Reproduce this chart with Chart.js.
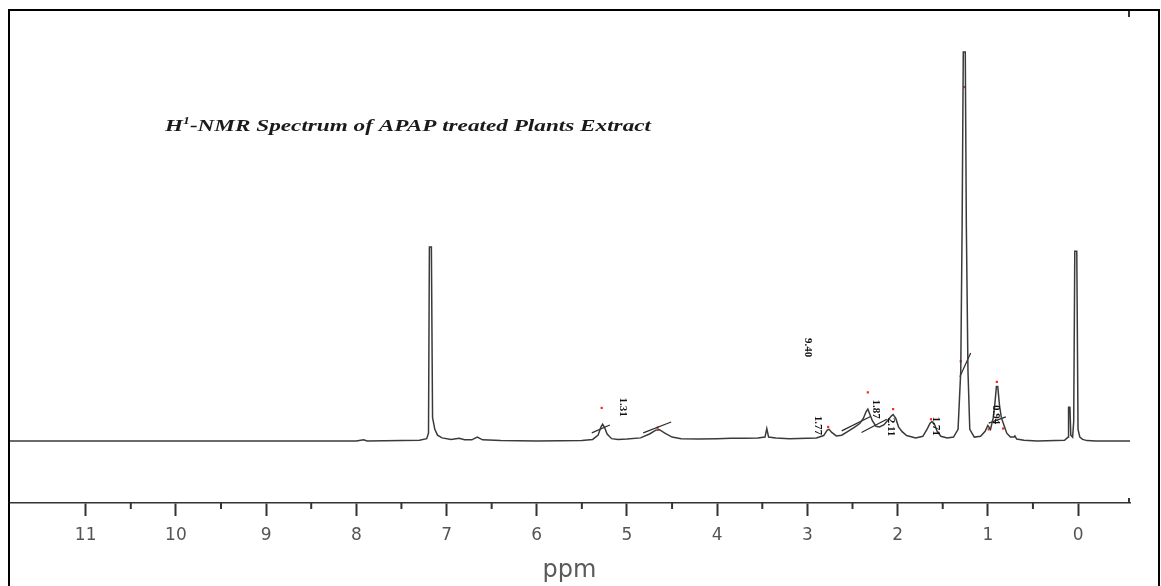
<!DOCTYPE html>
<html>
<head>
<meta charset="utf-8">
<script src="https://cdn.jsdelivr.net/npm/chart.js@4.4.0/dist/chart.umd.min.js"></script>
<style>
  html, body { margin: 0; padding: 0; background: #fff; }
  #wrap { width: 1161px; height: 586px; }
</style>
</head>
<body>
<div id="wrap"><canvas id="nmr" width="1161" height="586"></canvas></div>
<script>
// spectrum trace (ppm, relative intensity)
const ppm = [
  11.85, 8.0, 7.92, 7.88, 7.30, 7.22, 7.20, 7.19, 7.168, 7.155, 7.13, 7.10, 7.05, 6.95, 6.86, 6.80,
  6.72, 6.66, 6.60, 6.40, 6.0, 5.5, 5.38, 5.32, 5.29, 5.27, 5.25, 5.22, 5.17, 5.10, 5.0, 4.85,
  4.75, 4.68, 4.64, 4.58, 4.50, 4.40, 4.2, 4.0, 3.85, 3.70, 3.55, 3.47, 3.45, 3.43, 3.35, 3.2,
  3.0, 2.9, 2.82, 2.78, 2.76, 2.73, 2.68, 2.62, 2.55, 2.48, 2.42, 2.38, 2.35, 2.33, 2.31, 2.28,
  2.24, 2.20, 2.15, 2.10, 2.07, 2.05, 2.02, 1.99, 1.95, 1.90, 1.80, 1.72, 1.67, 1.64, 1.62, 1.59,
  1.56, 1.52, 1.45, 1.38, 1.33, 1.30, 1.285, 1.272, 1.250, 1.238, 1.22, 1.20, 1.15, 1.08, 1.03, 1.00,
  0.97, 0.94, 0.92, 0.905, 0.89, 0.87, 0.85, 0.82, 0.79, 0.75, 0.71, 0.70, 0.68, 0.60, 0.45, 0.15,
  0.11, 0.105, 0.09, 0.08, 0.06, 0.048, 0.036, 0.014, 0.0, -0.02, -0.05, -0.1, -0.2, -0.576
];
const intensity = [
  0, 0, 0.3, 0, 0.2, 0.6, 2, 49.9, 49.9, 6, 3, 1.5, 0.8, 0.4, 0.7, 0.3,
  0.3, 1.0, 0.3, 0.1, 0, 0.1, 0.4, 1.5, 3.5, 4.3, 3.6, 1.8, 0.6, 0.4, 0.5, 0.8,
  1.8, 2.8, 2.9, 2.0, 1.0, 0.6, 0.5, 0.6, 0.7, 0.7, 0.8, 1.0, 3.2, 1.0, 0.8, 0.6,
  0.7, 0.8, 1.4, 2.8, 3.0, 2.2, 1.3, 1.5, 2.5, 3.5, 4.5, 5.8, 7.5, 8.2, 7.0, 5.2,
  3.8, 3.6, 4.2, 5.6, 6.4, 6.8, 5.8, 3.6, 2.4, 1.4, 0.8, 1.2, 3.2, 4.6, 5.0, 4.2,
  2.4, 1.2, 0.8, 1.0, 3.0, 18, 55, 100, 100, 55, 18, 3, 1.0, 1.2, 2.5, 4,
  3, 6, 10, 14, 14, 9, 6, 4, 2, 1, 1.0, 1.3, 0.5, 0.2, 0, 0.2,
  1, 8.7, 8.7, 1.5, 1, 5, 48.8, 48.8, 3, 1, 0.4, 0.1, 0, 0
];

// integral curves (start / end of each)
const integralPpm = [[5.39, 5.19], [4.82, 4.51], [2.62, 2.30], [2.40, 2.12], [1.31, 1.19], [0.99, 0.80]];
const integralVal = [[2.1, 4.1], [2.1, 4.9], [2.6, 6.3], [2.2, 5.6], [16.5, 22.6], [4.6, 6.2]];

// integral labels
const labelText = ['1.31', '9.40', '1.77', '1.87', '2.11', '1.71', '0.94'];
const labelPpm = [5.05, 2.99, 2.88, 2.24, 2.07, 1.58, 0.91];
const labelVal = [8.7, 24.0, 4.0, 8.2, 3.6, 3.8, 6.8];

// peak-pick marks
const peakPpm = [5.28, 4.66, 2.77, 2.33, 2.05, 1.63, 1.26, 1.30, 0.90, 0.99, 0.83];
const peakVal = [8.5, 3.4, 3.6, 12.5, 8.2, 5.6, 91, 20.5, 15.2, 3.0, 3.2];

// axis ticks
const majorTicks = [11, 10, 9, 8, 7, 6, 5, 4, 3, 2, 1, 0];
const minorTicks = [10.5, 9.5, 8.5, 7.5, 6.5, 5.5, 4.5, 3.5, 2.5, 1.5, 0.5];

const pairs = (xs, ys) => xs.map((x, i) => ({ x, y: ys[i] }));

const datasets = [{
  data: pairs(ppm, intensity),
  borderColor: '#3a3a3a',
  backgroundColor: 'transparent',
  borderWidth: 1.5,
  pointRadius: 0,
  tension: 0
}];
integralPpm.forEach((xs, i) => datasets.push({
  data: pairs(xs, integralVal[i]),
  borderColor: '#2a2a2a',
  borderWidth: 1.2,
  pointRadius: 0
}));
datasets.push({
  type: 'scatter',
  data: pairs(peakPpm, peakVal),
  pointRadius: 1.6,
  pointStyle: 'rect',
  backgroundColor: '#ff2a2a',
  borderWidth: 0
});

const extras = {
  id: 'extras',
  afterDraw(chart) {
    const ctx = chart.ctx;
    const x = chart.scales.x;
    const y = chart.scales.y;
    const base = x.top;
    ctx.save();
    ctx.strokeStyle = '#000';
    ctx.lineWidth = 2;
    ctx.beginPath();
    ctx.moveTo(9, 586); ctx.lineTo(9, 10); ctx.lineTo(1159, 10); ctx.lineTo(1159, 586);
    ctx.stroke();

    // minor ticks and the end stub of the axis
    ctx.strokeStyle = '#333';
    ctx.lineWidth = 2;
    ctx.beginPath();
    minorTicks.forEach(v => {
      const px = x.getPixelForValue(v);
      ctx.moveTo(px, base); ctx.lineTo(px, base + 6);
    });
    ctx.moveTo(x.right - 1, base); ctx.lineTo(x.right - 1, base - 5);
    ctx.moveTo(x.right - 1, 11); ctx.lineTo(x.right - 1, 17);
    ctx.stroke();

    // integral labels
    ctx.fillStyle = '#111';
    ctx.font = 'bold 11px "Liberation Serif"';
    ctx.textAlign = 'center';
    ctx.textBaseline = 'middle';
    labelText.forEach((t, i) => {
      ctx.save();
      ctx.translate(x.getPixelForValue(labelPpm[i]), y.getPixelForValue(labelVal[i]));
      ctx.rotate(Math.PI / 2);
      ctx.fillText(t, 0, 0);
      ctx.restore();
    });

    // title
    ctx.font = 'bold italic 17px "Liberation Serif"';
    ctx.textAlign = 'left';
    ctx.textBaseline = 'alphabetic';
    ctx.fillStyle = '#1a1a1a';
    const a = 'H', b = '-NMR Spectrum of APAP treated Plants Extract';
    const supFont = 'bold italic 10px "Liberation Serif"';
    const wa = ctx.measureText(a).width;
    const wb = ctx.measureText(b).width;
    ctx.font = supFont;
    const ws = ctx.measureText('1').width;
    const total = wa + ws + wb;
    const k = (651 - 165) / total;
    ctx.translate(165, 131);
    ctx.scale(k, 1);
    ctx.font = 'bold italic 17px "Liberation Serif"';
    ctx.fillText(a, 0, 0);
    ctx.font = supFont;
    ctx.fillText('1', wa, -7);
    ctx.font = 'bold italic 17px "Liberation Serif"';
    ctx.fillText(b, wa + ws, 0);
    ctx.restore();
  }
};

new Chart(document.getElementById('nmr'), {
  type: 'line',
  data: { datasets },
  options: {
    responsive: false,
    animation: false,
    devicePixelRatio: 1,
    layout: { padding: { left: 9, right: 31, top: 10, bottom: 0 } },
    plugins: { legend: { display: false }, tooltip: { enabled: false } },
    scales: {
      x: {
        type: 'linear',
        reverse: true,
        min: -0.576,
        max: 11.85,
        afterBuildTicks: s => { s.ticks = majorTicks.map(v => ({ value: v })); },
        afterFit: s => { s.height = 83; },
        ticks: {
          autoSkip: false,
          maxRotation: 0,
          padding: 9,
          color: '#555',
          font: { family: 'DejaVu Sans', size: 17 },
          callback: v => String(v)
        },
        grid: { drawOnChartArea: false, drawTicks: true, tickLength: 13, tickColor: '#333', tickWidth: 2 },
        border: { display: true, color: '#333', width: 1.5 },
        title: {
          display: true,
          text: 'ppm',
          color: '#5a5a5a',
          font: { family: 'DejaVu Sans', size: 24, lineHeight: 1 },
          padding: { top: 0, bottom: 3 }
        }
      },
      y: { display: false, min: -15.94, max: 110.8 }
    }
  },
  plugins: [extras]
});
</script>
</body>
</html>
